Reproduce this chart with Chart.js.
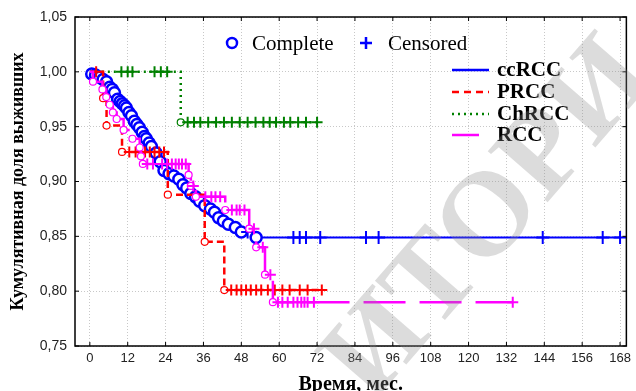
<!DOCTYPE html>
<html>
<head>
<meta charset="utf-8">
<title>Кумулятивная доля выживших</title>
<script src="https://cdn.jsdelivr.net/npm/chart.js@4.4.1/dist/chart.umd.min.js"></script>
<style>
  body { margin: 0; background: #fff; }
  canvas { display: block; }
</style>
</head>
<body>
<canvas id="plot" width="636" height="391"></canvas>
<script>
// метки: 'o' - событие (Complete), '+' - цензурировано (Censored), '-' - без маркера

// ccRCC
const ccTime = [0, 0.6, 1.8, 3.1, 4.2, 5.3, 6.3, 7.1, 7.8, 8.8, 9.6, 10.3, 11.0, 11.6, 12.4, 13.2, 14.1, 14.9, 15.7, 16.6,
  17.3, 17.9, 18.8, 19.5, 21.0, 22.3, 23.5, 25.1, 26.6, 28.2, 29.5, 30.7, 32.0, 33.5, 34.8, 36.4, 38.2, 39.5, 40.8,
  42.3, 43.9, 46.1, 48.0, 50.0, 52.7, 64.5, 66.5, 68.5, 73, 87.5, 91.5, 143.5, 162.5, 168];
const ccSurv = [1, 0.998, 0.997, 0.995, 0.993, 0.991, 0.986, 0.984, 0.981, 0.975, 0.973, 0.971, 0.969, 0.967, 0.963, 0.960,
  0.955, 0.952, 0.949, 0.945, 0.941, 0.939, 0.935, 0.932, 0.926, 0.918, 0.910, 0.907, 0.905, 0.902, 0.897, 0.894, 0.889,
  0.886, 0.882, 0.878, 0.875, 0.872, 0.867, 0.864, 0.861, 0.858, 0.854, 0.854, 0.849, 0.849, 0.849, 0.849, 0.849, 0.849,
  0.849, 0.849, 0.849, 0.849];
const ccMark = ['-', 'o', 'o', 'o', 'o', 'o', 'o', 'o', 'o', 'o', 'o', 'o', 'o', 'o', 'o', 'o', 'o', 'o', 'o', 'o',
  'o', 'o', 'o', 'o', 'o', 'o', 'o', 'o', 'o', 'o', 'o', 'o', 'o', 'o', 'o', 'o', 'o', 'o', 'o',
  'o', 'o', 'o', 'o', '+', 'o', '+', '+', '+', '+', '+', '+', '+', '+', '+'];

// PRCC
const prTime = [0, 2, 4.2, 5.3, 10.2, 12.5, 14.5, 17.5, 19, 20.5, 22, 23.5, 24.7, 36.4, 42.6, 44.8, 46.5, 48, 49.5,
  51, 52.7, 54.3, 56.4, 58.6, 61, 63.3, 66.5, 69, 73.5];
const prSurv = [1, 1, 0.976, 0.951, 0.927, 0.927, 0.927, 0.927, 0.927, 0.927, 0.927, 0.927, 0.888, 0.845, 0.801, 0.801,
  0.801, 0.801, 0.801, 0.801, 0.801, 0.801, 0.801, 0.801, 0.801, 0.801, 0.801, 0.801, 0.801];
const prMark = ['-', '+', 'o', 'o', 'o', '+', '+', '+', '+', '+', '+', '+', 'o', 'o', 'o', '+', '+', '+', '+',
  '+', '+', '+', '+', '+', '+', '+', '+', '+', '+'];

// ChRCC
const chTime = [0, 10, 12, 13.5, 20.5, 22.5, 24.5, 28.8, 31, 33, 35, 37.5, 40, 42.5, 45, 47.5, 50, 52.5, 55, 57, 59,
  61.5, 63.5, 66, 68.5, 72];
const chSurv = [1, 1, 1, 1, 1, 1, 1, 0.954, 0.954, 0.954, 0.954, 0.954, 0.954, 0.954, 0.954, 0.954, 0.954, 0.954,
  0.954, 0.954, 0.954, 0.954, 0.954, 0.954, 0.954, 0.954];
const chMark = ['-', '+', '+', '+', '+', '+', '+', 'o', '+', '+', '+', '+', '+', '+', '+', '+', '+', '+', '+', '+', '+',
  '+', '+', '+', '+', '+'];

// RCC
const rcTime = [0, 1.0, 4.0, 5.2, 6.3, 7.3, 8.5, 10.7, 13.5, 15.8, 16.2, 16.8, 18.2, 20, 22.9, 24.5, 26, 27.2, 28.2,
  29.2, 30.4, 31.3, 32.0, 32.8, 33.6, 36.6, 38.5, 39.8, 41.3, 42.9, 45, 46.5, 47.5, 49, 50.5, 52, 52.7, 54.8, 55.5,
  57.2, 58, 59.6, 61, 62.7, 64.5, 65.8, 67, 68, 69, 71, 134];
const rcSurv = [1, 0.991, 0.984, 0.977, 0.970, 0.963, 0.957, 0.947, 0.939, 0.931, 0.923, 0.916, 0.916, 0.916, 0.916,
  0.916, 0.916, 0.916, 0.916, 0.916, 0.916, 0.906, 0.896, 0.896, 0.886, 0.886, 0.886, 0.886, 0.886, 0.874, 0.874,
  0.874, 0.874, 0.874, 0.857, 0.857, 0.840, 0.840, 0.815, 0.815, 0.790, 0.790, 0.790, 0.790, 0.790, 0.790, 0.790,
  0.790, 0.790, 0.790, 0.790];
const rcMark = ['-', 'o', 'o', 'o', 'o', 'o', 'o', 'o', 'o', 'o', 'o', 'o', '+', '+', '+', '+', '+', '+', '+',
  '+', '+', 'o', 'o', '+', 'o', '+', '+', '+', '+', 'o', '+', '+', '+', '+', 'o', '+', 'o', '+', 'o',
  '+', 'o', '+', '+', '+', '+', '+', '+', '+', '+', '+', '+'];

// оси
const xTickVals = [0, 12, 24, 36, 48, 60, 72, 84, 96, 108, 120, 132, 144, 156, 168];
const yTickVals = [0.75, 0.80, 0.85, 0.90, 0.95, 1.00, 1.05];

// водяной знак
const watermarkText = 'ИТОРИ';

let kmPoints = (time, surv) => time.map((t, i) => ({x: t, y: surv[i]}));
let markStyle = (marks) => marks.map(m => m === 'o' ? 'circle' : 'cross');
let markRadius = (marks, rc, rp) => marks.map(m => m === 'o' ? rc : (m === '+' ? rp : 0));

let kmSet = (label, time, surv, marks, color, opts) => Object.assign({
  label: label,
  data: kmPoints(time, surv),
  showLine: true,
  stepped: 'before',
  borderColor: color,
  borderWidth: 2,
  pointStyle: markStyle(marks),
  pointRadius: markRadius(marks, 3.5, 5.5),
  pointBorderColor: color,
  pointBackgroundColor: '#ffffff',
  pointBorderWidth: marks.map(m => m === 'o' ? 1.2 : 2),
  pointHoverRadius: 0
}, opts);

// рамка, внутренние засечки и легенды
const frameAndLegend = {
  id: 'frameAndLegend',
  afterDraw(chart) {
    const {ctx, chartArea: a, scales} = chart;
    ctx.save();
    ctx.strokeStyle = '#000';
    ctx.lineWidth = 1.5;
    ctx.setLineDash([]);
    ctx.strokeRect(a.left, a.top, a.right - a.left, a.bottom - a.top);
    ctx.lineWidth = 1;
    ctx.beginPath();
    xTickVals.forEach(v => {
      const x = scales.x.getPixelForValue(v);
      ctx.moveTo(x, a.top); ctx.lineTo(x, a.top + 4);
      ctx.moveTo(x, a.bottom); ctx.lineTo(x, a.bottom - 4);
    });
    yTickVals.forEach(v => {
      const y = scales.y.getPixelForValue(v);
      ctx.moveTo(a.left, y); ctx.lineTo(a.left + 4, y);
      ctx.moveTo(a.right, y); ctx.lineTo(a.right - 4, y);
    });
    ctx.stroke();

    // Complete / Censored
    ctx.strokeStyle = '#0000ff';
    ctx.lineWidth = 2.5;
    ctx.beginPath();
    ctx.arc(232, 43, 5, 0, Math.PI * 2);
    ctx.stroke();
    ctx.beginPath();
    ctx.moveTo(360, 43); ctx.lineTo(372, 43);
    ctx.moveTo(366, 37); ctx.lineTo(366, 49);
    ctx.stroke();
    ctx.fillStyle = '#000';
    ctx.textBaseline = 'middle';
    ctx.font = '21px "Liberation Serif"';
    ctx.fillText('Complete', 252, 44);
    ctx.fillText('Censored', 388, 44);

    // группы
    const items = [
      {name: 'ccRCC', color: '#0000ff', dash: [], len: 37, y: 70},
      {name: 'PRCC', color: '#ff0000', dash: [7, 5], len: 37, y: 92},
      {name: 'ChRCC', color: '#008000', dash: [2, 4], len: 37, y: 114},
      {name: 'RCC', color: '#ff00ff', dash: [], len: 27, y: 135}
    ];
    ctx.font = 'bold 21px "Liberation Serif"';
    items.forEach(it => {
      ctx.strokeStyle = it.color;
      ctx.lineWidth = 2.5;
      ctx.setLineDash(it.dash);
      ctx.beginPath();
      ctx.moveTo(452, it.y); ctx.lineTo(452 + it.len, it.y);
      ctx.stroke();
      ctx.fillText(it.name, 497, it.y + 1);
    });

    // водяной знак поверх графика
    ctx.setLineDash([]);
    ctx.translate(378, 350);
    ctx.rotate(-49 * Math.PI / 180);
    ctx.font = 'bold 120px "Liberation Serif"';
    ctx.fillStyle = 'rgba(140,140,140,0.3)';
    ctx.textAlign = 'left';
    ctx.fillText(watermarkText, -45, 0);
    ctx.restore();
  }
};

Chart.defaults.font.family = '"Liberation Sans"';

new Chart(document.getElementById('plot'), {
  type: 'scatter',
  data: {
    datasets: [
      kmSet('RCC', rcTime, rcSurv, rcMark, '#ff00ff', {borderDash: [42, 14], borderWidth: 2.5, order: 1}),
      kmSet('PRCC', prTime, prSurv, prMark, '#ff0000', {borderDash: [7, 4], borderWidth: 2.5, order: 2}),
      kmSet('ChRCC', chTime, chSurv, chMark, '#008000', {borderDash: [2, 4], borderWidth: 2.5, order: 3}),
      kmSet('ccRCC', ccTime, ccSurv, ccMark, '#0000ff', {
        order: 4,
        pointRadius: markRadius(ccMark, 5.5, 6.5),
        pointBorderWidth: ccMark.map(m => m === 'o' ? 2.5 : 2)
      })
    ]
  },
  options: {
    responsive: false,
    animation: false,
    devicePixelRatio: 1,
    layout: {padding: {left: 0, right: 4, top: 17, bottom: 0}},
    plugins: {legend: {display: false}, tooltip: {enabled: false}},
    scales: {
      x: {
        type: 'linear',
        min: -4.7,
        max: 170,
        afterFit: s => { s.height = 45; },
        afterBuildTicks: s => { s.ticks = xTickVals.map(v => ({value: v})); },
        grid: {color: '#c8c8c8', drawTicks: false},
        border: {display: false, dash: [1, 2]},
        ticks: {padding: 5, color: '#222', font: {size: 13}},
        title: {
          display: true,
          text: 'Время, мес.',
          color: '#000',
          font: {family: '"Liberation Serif"', size: 20, weight: 'bold'},
          padding: {top: 0, bottom: -6}
        }
      },
      y: {
        type: 'linear',
        min: 0.75,
        max: 1.05,
        afterFit: s => { s.width = 75; },
        afterBuildTicks: s => { s.ticks = yTickVals.map(v => ({value: v})); },
        grid: {color: '#c8c8c8', drawTicks: false},
        border: {display: false, dash: [1, 2]},
        ticks: {
          padding: 8,
          color: '#222',
          font: {size: 14},
          callback: v => v.toFixed(2).replace('.', ',')
        },
        title: {
          display: true,
          text: 'Кумулятивная доля выживших',
          color: '#000',
          font: {family: '"Liberation Serif"', size: 18, weight: 'bold'},
          padding: {top: 8, bottom: 0}
        }
      }
    }
  },
  plugins: [frameAndLegend]
});
</script>
</body>
</html>
